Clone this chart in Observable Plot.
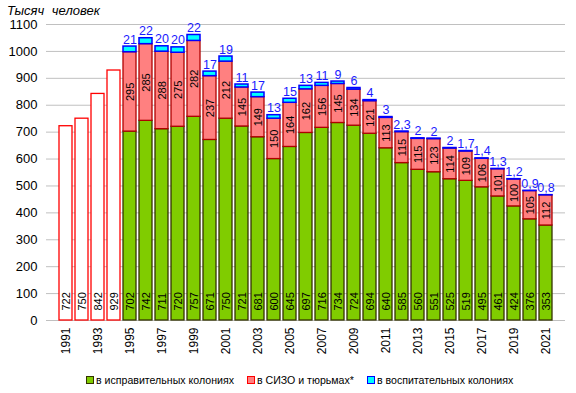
<!DOCTYPE html>
<html>
<head>
<meta charset="utf-8">
<script src="https://cdn.jsdelivr.net/npm/d3@7"></script>
<script src="https://cdn.jsdelivr.net/npm/@observablehq/plot@0.6"></script>
<style>
  body { margin: 0; background: #fff; font-family: "Liberation Sans", Arial, sans-serif; }
  #wrap { position: relative; width: 576px; height: 393px; }
  #title { position: absolute; left: 7px; top: 3px; font-size: 13px; font-style: italic; word-spacing: 4px; color: #000; }
  #legend { position: absolute; left: 86px; top: 374px; font-size: 10.6px; display: flex; align-items: center; color: #000; white-space: nowrap; }
  .item { display: flex; align-items: center; margin-right: 13px; }
  .sw { display: inline-block; width: 6px; height: 6px; margin-right: 2px; border: 1px solid; }
</style>
</head>
<body>
<div id="wrap">
  <div id="chart"></div>
  <div id="title">Тысяч человек</div>
  <div id="legend"></div>
</div>
<script>
// Years
const earlyYears = [1991, 1992, 1993, 1994];
const earlyTotals = [722, 750, 842, 929];
const years = [1995, 1996, 1997, 1998, 1999, 2000, 2001, 2002, 2003, 2004, 2005, 2006, 2007, 2008, 2009, 2010, 2011, 2012, 2013, 2014, 2015, 2016, 2017, 2018, 2019, 2020, 2021];
// в исправительных колониях
const colonies = [702, 742, 711, 720, 757, 671, 750, 721, 681, 600, 645, 697, 716, 734, 724, 694, 640, 585, 560, 551, 525, 519, 495, 461, 424, 376, 353];
// в СИЗО и тюрьмах*
const sizo = [295, 285, 288, 275, 282, 237, 212, 145, 149, 150, 164, 162, 156, 145, 134, 121, 113, 115, 115, 123, 114, 109, 106, 101, 100, 105, 112];
// в воспитательных колониях
const juvenile = [21, 22, 20, 20, 22, 17, 19, 11, 17, 13, 15, 13, 11, 9, 6, 4, 3, 2.3, 2, 2, 2, 1.7, 1.4, 1.3, 1.2, 0.9, 0.8];
const seriesNames = ["в исправительных колониях", "в СИЗО и тюрьмах*", "в воспитательных колониях"];
const oddYearTicks = [1991, 1993, 1995, 1997, 1999, 2001, 2003, 2005, 2007, 2009, 2011, 2013, 2015, 2017, 2019, 2021];
const yTicks = [0, 100, 200, 300, 400, 500, 600, 700, 800, 900, 1000, 1100];

const allYears = earlyYears.concat(years);
const early = earlyYears.map((y, i) => ({year: y, total: earlyTotals[i]}));
const rows = years.map((y, i) => ({
  year: y, g: colonies[i], r: sizo[i], b: juvenile[i],
  gr: colonies[i] + sizo[i], tot: colonies[i] + sizo[i] + juvenile[i]
}));

const font = "'Liberation Sans', Arial, sans-serif";
const GREEN = "#80cc00", GREEN_S = "#333300";
const RED = "#ff8080", RED_S = "#b00000";
const CYAN = "#00ffff", BLUE = "#0000ff";

const chart = Plot.plot({
  width: 576,
  height: 365,
  marginLeft: 46,
  marginRight: 11,
  marginTop: 24,
  marginBottom: 45,
  style: {fontFamily: font, background: "#fff", color: "#000"},
  x: {type: "band", domain: allYears, padding: 0.16, label: null},
  y: {domain: [0, 1100], label: null},
  marks: [
    Plot.gridY(yTicks, {stroke: "#c0c0c0", strokeOpacity: 1}),
    Plot.axisY(yTicks, {tickSize: 0, tickPadding: 9, fontSize: 13, label: null, tickFormat: d => String(d)}),
    Plot.axisX(oddYearTicks, {tickSize: 0, tickPadding: 7, tickRotate: -90, textAnchor: "end", lineAnchor: "middle", fontSize: 12, label: null, tickFormat: d => String(d)}),
    // hollow early bars
    Plot.barY(early, {x: "year", y1: 0, y2: "total", fill: "#fff", stroke: "#ff0000", strokeWidth: 1.3}),
    // stacked segments
    Plot.barY(rows, {x: "year", y1: 0, y2: "g", fill: GREEN, stroke: GREEN_S, strokeWidth: 1.3}),
    Plot.barY(rows, {x: "year", y1: "g", y2: "gr", fill: RED, stroke: RED_S, strokeWidth: 1.3}),
    Plot.barY(rows, {x: "year", y1: "gr", y2: "tot", fill: CYAN, stroke: BLUE, strokeWidth: 1.5}),
    // labels
    Plot.text(early, {x: "year", y: 0, text: d => String(d.total), rotate: -90, textAnchor: "start", dy: -10, fontSize: 11, fill: "#000"}),
    Plot.text(rows, {x: "year", y: 0, text: d => String(d.g), rotate: -90, textAnchor: "start", dy: -10, fontSize: 11, fill: "#000"}),
    Plot.text(rows, {x: "year", y: d => d.g + d.r / 2, text: d => String(d.r), rotate: -90, textAnchor: "middle", fontSize: 11, fill: "#000"}),
    Plot.text(rows, {x: "year", y: "tot", text: d => String(d.b).replace(".", ","), lineAnchor: "bottom", dy: -3, fontSize: 12.5, fill: "#1a1aff"})
  ]
});
document.getElementById("chart").appendChild(chart);

const legendColors = [[GREEN, GREEN_S], [RED, "#ff0000"], [CYAN, BLUE]];
const legend = document.getElementById("legend");
seriesNames.forEach((name, i) => {
  const item = document.createElement("span");
  item.className = "item";
  const sw = document.createElement("span");
  sw.className = "sw";
  sw.style.background = legendColors[i][0];
  sw.style.borderColor = legendColors[i][1];
  item.appendChild(sw);
  const t = document.createElement("span");
  t.textContent = name;
  item.appendChild(t);
  legend.appendChild(item);
});
</script>
</body>
</html>
